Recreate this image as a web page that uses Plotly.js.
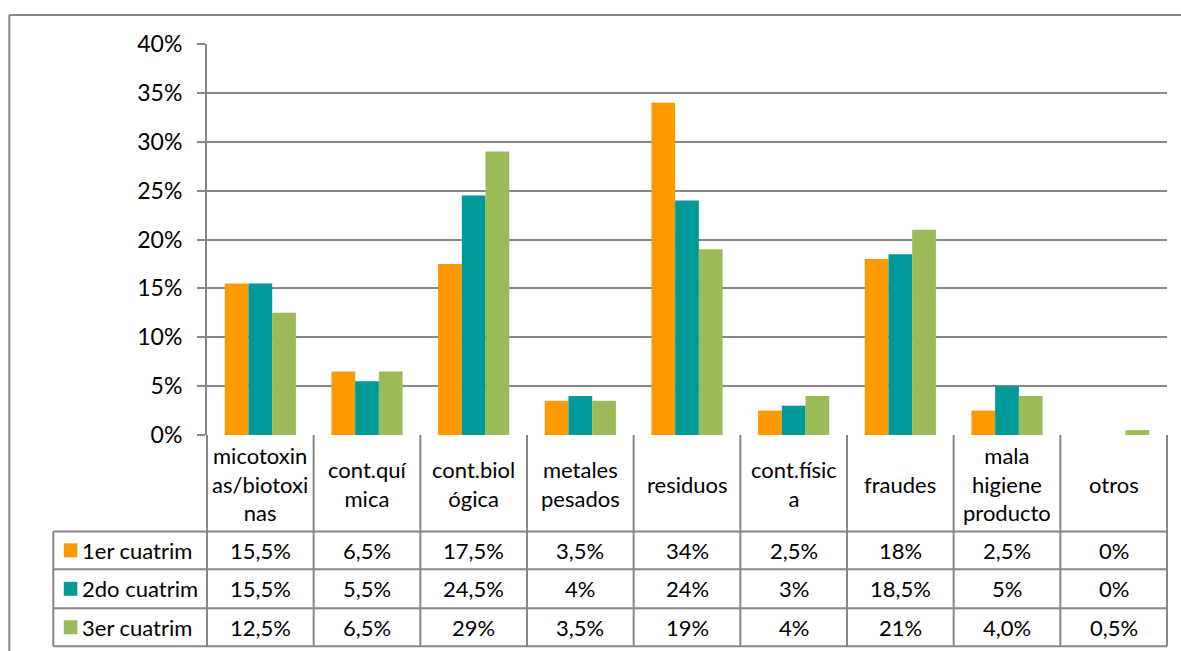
<!DOCTYPE html>
<html>
<head>
<meta charset="utf-8">
<script src="https://cdn.plot.ly/plotly-3.0.1.min.js"></script>
<style>html,body{margin:0;padding:0;background:#fff;}#chart{width:1181px;height:651px;}</style>
</head>
<body>
<div id="chart"></div>
<script>
// ---- data ----
const categories = ['micotoxinas/biotoxinas','cont.química','cont.biológica','metales pesados','residuos','cont.física','fraudes','mala higiene producto','otros'];
const headerLabels = ['micotoxin<br>as/biotoxi<br>nas','cont.quí<br>mica','cont.biol<br>ógica','metales<br>pesados','residuos','cont.físic<br>a','fraudes','mala<br>higiene<br>producto','otros'];
const seriesNames = ['1er cuatrim','2do cuatrim','3er cuatrim'];
const values1 = [0.155, 0.065, 0.175, 0.035, 0.34, 0.025, 0.18, 0.025, 0.0];
const values2 = [0.155, 0.055, 0.245, 0.04, 0.24, 0.03, 0.185, 0.05, 0.0];
const values3 = [0.125, 0.065, 0.29, 0.035, 0.19, 0.04, 0.21, 0.04, 0.005];
const labels1 = ['15,5%','6,5%','17,5%','3,5%','34%','2,5%','18%','2,5%','0%'];
const labels2 = ['15,5%','5,5%','24,5%','4%','24%','3%','18,5%','5%','0%'];
const labels3 = ['12,5%','6,5%','29%','3,5%','19%','4%','21%','4,0%','0,5%'];
const colors = ['#FF9900','#009999','#9BBB59'];

// ---- layout geometry (pixels) ----
const W = 1181, H = 651;
const L = 206.7, R = 1166.7, T = 44, B = 435.5;
const FONT = 'Lato, "Liberation Sans", sans-serif';
const FS = 22;
const TICKFS = 23;
const GRAY = '#878787';
const py = p => (B - p) / (B - T);           // pixel y -> paper y
const px = p => (p - L) / (R - L);           // pixel x -> paper x

const series = [values1, values2, values3];
const seriesLabels = [labels1, labels2, labels3];

const traces = series.map((v, i) => ({
  type: 'bar', name: seriesNames[i], x: categories, y: v,
  marker: {color: colors[i]}, hoverinfo: 'skip', showlegend: false
}));

const shapes = [];
const annotations = [];
const lineStyle = {color: GRAY, width: 2};

// outer chart border
shapes.push({type:'line', xref:'paper', yref:'paper', x0:px(9), x1:px(W+5), y0:py(15), y1:py(15), line:lineStyle});
shapes.push({type:'line', xref:'paper', yref:'paper', x0:px(9), x1:px(9), y0:py(15), y1:py(H+5), line:lineStyle});

// table rows boundaries (pixel)
const rowLines = [532, 570, 609, 647];
const tableLeft = 53;

// vertical lines at category boundaries
for (let i = 0; i <= categories.length; i++) {
  shapes.push({type:'line', xref:'paper', yref:'paper',
    x0: i / categories.length, x1: i / categories.length,
    y0: 0, y1: py(647), line: lineStyle});
}
// left legend column border
shapes.push({type:'line', xref:'paper', yref:'paper', x0:px(tableLeft), x1:px(tableLeft), y0:py(532), y1:py(647), line:lineStyle});
// horizontal row lines
rowLines.forEach(r => shapes.push({type:'line', xref:'paper', yref:'paper', x0:px(tableLeft), x1:1, y0:py(r), y1:py(r), line:lineStyle}));

// header labels
headerLabels.forEach((h, i) => annotations.push({
  xref:'paper', yref:'paper', x:(i + 0.5) / categories.length, y: py(485),
  text: h, showarrow:false, xanchor:'center', yanchor:'middle',
  font:{family:FONT, size:FS, color:'#000'}
}));

// data rows
const rowCenters = [551, 589.5, 628];
seriesLabels.forEach((labs, s) => {
  labs.forEach((t, i) => annotations.push({
    xref:'paper', yref:'paper', x:(i + 0.5) / categories.length, y: py(rowCenters[s]),
    text: t, showarrow:false, xanchor:'center', yanchor:'middle',
    font:{family:FONT, size:FS, color:'#000'}
  }));
  // legend key
  shapes.push({type:'rect', xref:'paper', yref:'paper', x0:px(63.5), x1:px(77), y0:py(rowCenters[s]-7), y1:py(rowCenters[s]+7),
    fillcolor: colors[s], line:{width:0}});
  annotations.push({xref:'paper', yref:'paper', x:px(80), y:py(rowCenters[s]),
    text: seriesNames[s], showarrow:false, xanchor:'left', yanchor:'middle',
    font:{family:FONT, size:FS, color:'#000'}});
});

const layout = {
  width: W, height: H,
  margin: {l: L, r: W - R, t: T, b: H - B, pad: 0},
  paper_bgcolor: '#fff', plot_bgcolor: '#fff',
  barmode: 'group', bargap: 0.333, bargroupgap: 0,
  font: {family: FONT, size: FS, color: '#000'},
  xaxis: {showticklabels:false, showgrid:false, zeroline:false, ticks:'', showline:false, fixedrange:true},
  yaxis: {range:[0, 0.4], dtick:0.05, tickformat:'.0%', showgrid:true, gridcolor:GRAY, gridwidth:2,
    zeroline:false, showline:true, linecolor:GRAY, linewidth:2, ticks:'outside', ticklen:8, tickcolor:GRAY, tickwidth:2,
    ticklabelstandoff: 10, tickfont:{family:FONT, size:TICKFS, color:'#000'}, fixedrange:true},
  shapes: shapes, annotations: annotations
};

Plotly.newPlot('chart', traces, layout, {staticPlot:true, displayModeBar:false});
</script>
</body>
</html>
